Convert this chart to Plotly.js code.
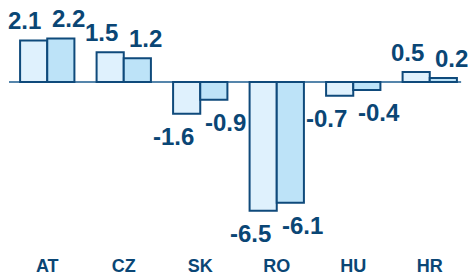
<!DOCTYPE html>
<html>
<head>
<meta charset="utf-8">
<script src="https://cdn.plot.ly/plotly-3.0.1.min.js"></script>
<style>html,body{margin:0;padding:0;background:#fff;}#chart{width:468px;height:279px;}</style>
</head>
<body>
<div id="chart"></div>
<script>
var categories = ["AT", "CZ", "SK", "RO", "HU", "HR"];
var seriesA = [2.1, 1.5, -1.6, -6.5, -0.7, 0.5];
var seriesB = [2.2, 1.2, -0.9, -6.1, -0.4, 0.2];

var navy = "#0f4a7b";
var textCol = "#0a4675";
var fontFam = "Liberation Sans, Arial, sans-serif";

var traces = [
  {type: "bar", x: categories, y: seriesA, name: "A",
   marker: {color: "#dff1fd", line: {color: navy, width: 2}}, hoverinfo: "none"},
  {type: "bar", x: categories, y: seriesB, name: "B",
   marker: {color: "#bde3f8", line: {color: navy, width: 2}}, hoverinfo: "none"}
];

function fmt(v) { return v.toFixed(1); }

var annotations = [];
[seriesA, seriesB].forEach(function (s, si) {
  s.forEach(function (v, i) {
    annotations.push({
      x: categories[i], y: v, xref: "x", yref: "y",
      text: "<b>" + fmt(v) + "</b>", showarrow: false,
      xanchor: si === 0 ? "right" : "left",
      xshift: si === 0 ? -4 : 3,
      yanchor: v >= 0 ? "bottom" : "top",
      yshift: v >= 0 ? 4 : -7,
      font: {family: fontFam, size: 24, color: textCol}
    });
  });
});

var layout = {
  width: 468, height: 279,
  margin: {l: 9, r: 0, t: 0, b: 26},
  paper_bgcolor: "#ffffff", plot_bgcolor: "#ffffff",
  showlegend: false,
  barmode: "group", bargap: 0.29, bargroupgap: 0,
  xaxis: {range: [-0.5, 5.5], showgrid: false, zeroline: false, showline: false,
          ticks: "", ticklabelstandoff: 0,
          tickfont: {family: fontFam, size: 18, color: textCol, weight: "bold"},
          fixedrange: true},
  yaxis: {range: [-8.636, 4.141], showgrid: false, zeroline: false, showline: false,
          showticklabels: false, ticks: "", fixedrange: true},
  shapes: [{type: "line", xref: "x", yref: "y", x0: -0.5, x1: 5.41, y0: 0, y1: 0,
            line: {color: "#1d5d8f", width: 1.6}, layer: "below"}],
  annotations: annotations
};

Plotly.newPlot("chart", traces, layout, {displayModeBar: false, staticPlot: true});
</script>
</body>
</html>
